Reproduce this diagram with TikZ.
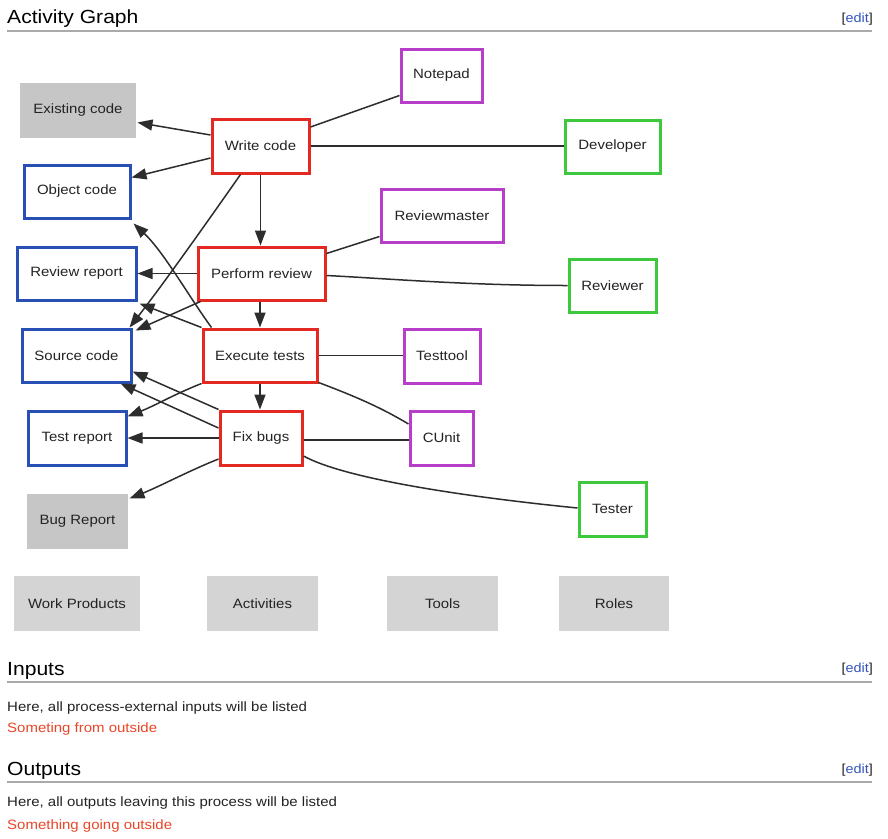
\documentclass[tikz,border=0pt]{standalone}
\usepackage{fontspec}
\setmainfont[FakeStretch=1.11]{Liberation Sans}
\usetikzlibrary{arrows.meta,calc}

\definecolor{actred}{RGB}{228,40,34}
\definecolor{wpblue}{RGB}{40,80,180}
\definecolor{toolpurple}{RGB}{182,62,200}
\definecolor{rolegreen}{RGB}{62,200,62}
\definecolor{extgray}{RGB}{198,198,198}
\definecolor{leggray}{RGB}{212,212,212}
\definecolor{edgecol}{RGB}{45,45,45}
\definecolor{txtcol}{RGB}{35,35,35}
\definecolor{rulecol}{RGB}{170,170,170}
\definecolor{linkblue}{RGB}{51,85,187}
\definecolor{newred}{RGB}{232,70,40}

\newcommand\boxfont{\fontsize{13.5}{16}\selectfont}
\newcommand\editfont{\fontsize{13}{15}\selectfont}
\newcommand\headfont{\fontsize{19}{22}\selectfont}
\newcommand\bodyfont{\fontsize{13.5}{16}\selectfont}

\tikzset{
  box/.style={line width=3pt, inner sep=0pt, font=\boxfont, text=txtcol},
  act/.style={box, draw=actred, fill=white},
  wp/.style={box, draw=wpblue, fill=white},
  wpext/.style={box, fill=extgray},
  tool/.style={box, draw=toolpurple, fill=white},
  role/.style={box, draw=rolegreen, fill=white},
  legend/.style={box, fill=leggray, minimum height=55pt},
  flow/.style={line width=1.5pt, draw=edgecol, -{Triangle[length=15pt,width=11pt]}},
  link/.style={line width=1.5pt, draw=edgecol},
  heading/.style={anchor=base west, inner sep=0pt, font=\headfont, text=black},
  bodytext/.style={anchor=base west, inner sep=0pt, font=\bodyfont, text=txtcol},
  newlink/.style={bodytext, text=newred},
  editlink/.style={anchor=base east, inner sep=0pt, font=\editfont, text=txtcol},
  sectionrule/.style={draw=rulecol, line width=1.5pt},
}

\begin{document}
\begin{tikzpicture}[x=1pt,y=-1pt]
\useasboundingbox[fill=white] (0,0) rectangle (888,838);

% ---------- section heading ----------
\node[heading] (hgraph) at (7,23) {Activity Graph};
\node[editlink] (egraph) at (873,22) {[\textcolor{linkblue}{edit}]};
\coordinate (rg1) at (7,31);
\coordinate (rg2) at (872,31);
\draw[sectionrule] (rg1) -- (rg2);

% ---------- work products ----------
\node[wpext, minimum width=116pt, minimum height=55pt] (existing) at (78,110.5) {Existing code};
\node[wp, minimum width=106pt, minimum height=53pt] (object) at (77,191.5) {Object code};
\node[wp, minimum width=119pt, minimum height=53pt] (review) at (76.5,273.5) {Review report};
\node[wp, minimum width=109pt, minimum height=53pt] (source) at (76.5,355.5) {Source code};
\node[wp, minimum width=98pt, minimum height=54pt] (testrep) at (77,438) {Test report};
\node[wpext, minimum width=101pt, minimum height=55pt] (bugrep) at (77.5,521.5) {Bug Report};

% ---------- activities ----------
\node[act, minimum width=97pt, minimum height=54pt] (write) at (260.5,146) {Write code};
\node[act, minimum width=127pt, minimum height=53pt] (perform) at (261.5,273.5) {Perform review};
\node[act, minimum width=114pt, minimum height=53pt] (execute) at (260,355.5) {Execute tests};
\node[act, minimum width=82pt, minimum height=54pt] (fix) at (261,438) {Fix bugs};

% ---------- tools ----------
\node[tool, minimum width=81pt, minimum height=53pt] (notepad) at (441.5,75.5) {Notepad};
\node[tool, minimum width=122pt, minimum height=53pt] (reviewmaster) at (442,215.5) {Reviewmaster};
\node[tool, minimum width=76pt, minimum height=54pt] (testtool) at (442,356) {Testtool};
\node[tool, minimum width=63pt, minimum height=54pt] (cunit) at (441.5,438) {CUnit};

% ---------- roles ----------
\node[role, minimum width=95pt, minimum height=53pt] (developer) at (612.5,146.5) {Developer};
\node[role, minimum width=87pt, minimum height=53pt] (reviewer) at (612.5,285.5) {Reviewer};
\node[role, minimum width=67pt, minimum height=54pt] (tester) at (612.5,509) {Tester};

% ---------- produced work products ----------
\draw[flow] ([yshift=11pt]write.west) -- ([yshift=-12pt]existing.east);
\draw[flow] ([yshift=-12pt]write.west) -- ([yshift=14pt]object.east);
\draw[flow] ([xshift=-20pt]write.south) .. controls +(-28,40) and +(35,-45) .. ([xshift=-3pt]source.north east);
\draw[flow] (perform.west) -- (review.east);
\draw[flow] ([xshift=4pt]perform.south west) -- ([xshift=3pt,yshift=-3pt]source.north east);
\draw[flow] ([xshift=10pt]execute.north west) .. controls +(-22,-30) and +(30,28) .. ([xshift=2pt,yshift=-4pt]object.south east);
\draw[flow] (execute.north west) -- ([xshift=2pt,yshift=-2pt]review.south east);
\draw[flow] (execute.south west) .. controls +(-30,12) and +(30,-12) .. ([yshift=-7pt]testrep.north east);
\draw[flow] (fix.north west) -- ([yshift=-16pt]source.east);
\draw[flow] ([yshift=10pt]fix.west) -- ([xshift=-12pt]source.south east);
\draw[flow] (fix.west) -- (testrep.east);
\draw[flow] ([yshift=-21pt]fix.west) .. controls +(-30,12) and +(30,-12) .. ([yshift=-6pt]bugrep.north east);

% ---------- activity sequence ----------
\draw[flow] (write.south) -- (write.south |- perform.north);
\draw[flow] (execute.north |- perform.south) -- (execute.north);
\draw[flow] (execute.south) -- (execute.south |- fix.north);

% ---------- tools and roles ----------
\draw[link] ([yshift=19pt]write.east) -- ([yshift=-20pt]notepad.west);
\draw[link] (write.east) -- (write.east -| developer.west);
\draw[link] ([yshift=20pt]perform.east) -- ([yshift=-21pt]reviewmaster.west);
\draw[link] ([yshift=-2pt]perform.east) .. controls +(60,3) and +(-100,0) .. (reviewer.west);
\draw[link] (execute.east) -- (execute.east -| testtool.west);
\draw[link] ([yshift=-27pt]execute.east) .. controls +(40,15) and +(-25,-15) .. ([yshift=14pt]cunit.west);
\draw[link] ([yshift=-2pt]fix.east) -- ([yshift=-2pt]cunit.west);
\draw[link] ([yshift=-18pt]fix.east) .. controls +(40,22) and +(-120,-12) .. ([yshift=1pt]tester.west);

% ---------- legend ----------
\node[legend, minimum width=126pt] (lwp) at (77,603.5) {Work Products};
\node[legend, minimum width=111pt] (lact) at (262.5,603.5) {Activities};
\node[legend, minimum width=111pt] (ltools) at (442.5,603.5) {Tools};
\node[legend, minimum width=110pt] (lroles) at (614,603.5) {Roles};

% ---------- inputs ----------
\node[heading] (hin) at (7,675) {Inputs};
\node[editlink] (ein) at (873,672) {[\textcolor{linkblue}{edit}]};
\coordinate (ri1) at (7,682);
\coordinate (ri2) at (872,682);
\draw[sectionrule] (ri1) -- (ri2);
\node[bodytext] (tin) at (7,711) {Here, all process-external inputs will be listed};
\node[newlink] (nin) at (7,732) {Someting from outside};

% ---------- outputs ----------
\node[heading] (hout) at (7,775) {Outputs};
\node[editlink] (eout) at (873,773) {[\textcolor{linkblue}{edit}]};
\coordinate (ro1) at (7,782);
\coordinate (ro2) at (872,782);
\draw[sectionrule] (ro1) -- (ro2);
\node[bodytext] (tout) at (7,806) {Here, all outputs leaving this process will be listed};
\node[newlink] (nout) at (7,829) {Something going outside};
\end{tikzpicture}
\end{document}
